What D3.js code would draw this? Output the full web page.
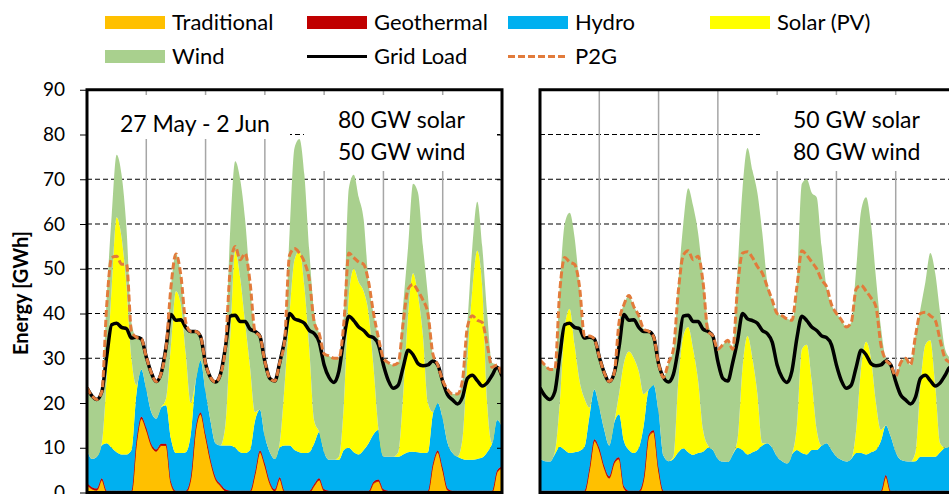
<!DOCTYPE html>
<html>
<head>
<meta charset="utf-8">
<title>Energy mix, 27 May - 2 Jun</title>
<script src="https://cdn.jsdelivr.net/npm/d3@7/dist/d3.min.js"></script>
<style>
  html, body { margin: 0; padding: 0; background: #ffffff; }
  svg { display: block; font-family: Lato, "Open Sans", "Liberation Sans", sans-serif; }
</style>
</head>
<body>
<svg id="chart" width="949" height="494"></svg>
<script>
// Sample hours across the week (every 2 h, 0..168)
const hours = d3.range(0, 169, 2);

// Grid load, identical in both scenarios [GWh]
const gridLoad = [23.4,21.6,20.8,22.5,30.5,37.5,37.8,36.9,36.6,34.5,34.7,34.3,30.3,
  26.8,24.8,26.6,32.5,39.8,38.5,38.6,36.9,36,36,34.8,28.8,
  25.7,24.7,26.4,32.3,39.4,39.6,38.2,38.2,36.5,36,34.9,29.3,
  25.5,24.9,29,34,40,38.8,38.4,37.8,36.2,35.5,33.6,28.5,
  25.7,24.6,27.2,34.5,39.4,38.4,37,36.2,35,34.6,33,28.5,
  25,23.3,24,28,31.8,30.8,28.8,28.3,28.5,29.4,28.5,24.8,
  21.8,20.7,19.8,21.3,25.5,26.2,25,23.8,24.5,26.2,28,26];

// Scenario A: 80 GW solar, 50 GW wind
const tradA = [1.7,0.8,0.5,2.8,0,0,0,0,0,0,11,16.5,14,
  10.5,9.2,10.5,10.5,2,0,0,0,3,14,17.5,12.5,
  7,3,1.5,0.3,0,0,0,0,0,4,9,6,
  2,0.3,3,0,0,0,0,0,0,1.5,2.8,0.3,
  0,0,0,0,0,0,0,0,0,2,2.5,0.3,
  0,0,0,0,0,0,0,0,0,6,9,5,
  0.5,0,0,0,0,0,0,0,0,0,4.5,5.4];
const geoA = [0.4,0.4,0.4,0.4,0.4,0.4,0.4,0.4,0.4,0.4,0.4,0.4,0.4,
  0.4,0.4,0.4,0.4,0.4,0.4,0.4,0.4,0.4,0.4,0.4,0.4,
  0.4,0.4,0.4,0.4,0.4,0.4,0.4,0.4,0.4,0.4,0.4,0.4,
  0.4,0.4,0.4,0.4,0.4,0.4,0.4,0.4,0.4,0.4,0.4,0.4,
  0.4,0.4,0.4,0.4,0.4,0.4,0.4,0.4,0.4,0.4,0.4,0.4,
  0.4,0.4,0.4,0.4,0.4,0.4,0.4,0.4,0.4,0.4,0.4,0.4,
  0.4,0.4,0.4,0.4,0.4,0.4,0.4,0.4,0.4,0.4,0.4,0.4];
const hydroA = [7.4,6.3,7.1,7.3,10.6,9.6,8.6,8.1,8.1,9.1,10.6,10.6,8.6,
  7.1,6.9,8.1,8.6,9.6,8.4,8.4,8.6,9.6,10.6,11.6,9.6,
  8.6,7.6,8.6,9.8,10.1,9.6,8.6,8.4,9.1,11.6,9.1,6.1,
  6.6,6.8,6.6,10.1,10.1,9.1,8.6,8.4,8.6,9.1,10.3,8.3,
  6.9,6.9,6.9,9.1,9.6,8.6,8.1,9.1,10.6,10.6,11.1,7.3,
  7.6,7.6,7.6,8.1,8.6,8.7,8.6,8.4,8.6,11.1,10.6,11.1,
  10.1,8.4,7.6,7.1,6.9,6.9,7.1,7.4,8.6,10.6,11.3,8.9];
const solarA = [0,0,0,0.5,15,36,52.5,48.5,37.5,20.5,2,0,0,
  0,0,0,1.5,21,36.2,33.2,22,7,0,0,0,
  0,0,0,4.5,24.5,44,39,29.2,18.5,2,0,0,
  0,0,1,13.5,29.5,42.5,45,37.2,23,5,0,0,
  0,0,0.7,10.5,34,41,38.5,35.5,29,15,0,0,
  0,0,1,13.5,31,39.9,35,26.2,11,0.5,0,0,
  0,0,0,4.5,22.7,38.2,46.5,38.2,11,0,0,0];
const windA = [13.9,14.1,12.8,11.5,18,16,14,14,13,8,10.7,6.8,7.3,
  8.8,8.3,7.6,11.5,13,8.3,6.5,7,16,11,5.3,6.3,
  9.7,13.7,15.9,17.3,24,20,22,23,19,18,16.4,16.8,
  16.5,17.4,18,10,18,25,25,25,22,24,22,22,
  23.2,22.7,22,20,24,21,19,16,7,12,20.5,22,
  21,20.5,20,20,15,20,23,20,24,13,8.5,8.5,
  12,13.2,14,13,8,9.5,11,9,20,18,12.3,11.3];
const p2gA = [23.4,21.6,20.8,22.5,42,52.5,52.8,51,51,36,34.7,34.3,30.3,
  26.8,24.8,26.6,32.5,46,53.3,48.5,38,36,36,34.8,28.8,
  25.7,24.7,26.4,32.3,50,55,52,53.4,47,36,34.9,29.3,
  25.5,24.9,29,34,53,54.5,53.5,51.5,47.5,38,35.5,31,
  30.5,30,30,38,53.5,52.5,51.5,51,47,40,34.5,30,
  29,28.5,29,38,45.5,46.5,45,43,40,31,28.5,25,
  23,22,22,25,37,39.5,38.5,38,33,28,28.5,26];

// Scenario B: 50 GW solar, 80 GW wind
const tradB = [0,0,0,0,0,0,0,0,0,0,5,11.5,9.5,
  5.5,3.2,6.5,7.5,1,0,0,0,3,12.5,13.5,5,
  0,0,0,0,0,0,0,0,0,0,0,0,
  0,0,0,0,0,0,0,0,0,0,0,0,
  0,0,0,0,0,0,0,0,0,0,0,0,
  0,0,0,0,0,0,0,0,0,3.5,0,0,
  0,0,0,0,0,0,0,0,0,0,0,0];
const geoB = [0.4,0.4,0.4,0.4,0.4,0.4,0.4,0.4,0.4,0.4,0.4,0.4,0.4,
  0.4,0.4,0.4,0.4,0.4,0.4,0.4,0.4,0.4,0.4,0.4,0.4,
  0.4,0.4,0.4,0.4,0.4,0.4,0.4,0.4,0.4,0.4,0.4,0.4,
  0.4,0.4,0.4,0.4,0.4,0.4,0.4,0.4,0.4,0.4,0.4,0.4,
  0.4,0.4,0.4,0.4,0.4,0.4,0.4,0.4,0.4,0.4,0.4,0.4,
  0.4,0.4,0.4,0.4,0.4,0.4,0.4,0.4,0.4,0.4,0.4,0.4,
  0.4,0.4,0.4,0.4,0.4,0.4,0.4,0.4,0.4,0.4,0.4,0.4];
const hydroB = [7.2,6.6,6.5,8.1,9.8,9.1,8.4,8.6,8.9,9.8,11.6,11.1,9.1,
  8.1,6.9,8.6,9.6,10.1,9.1,8.4,9.6,11.6,10.1,10.1,12.6,
  7.8,6.6,7.1,8.6,9.5,8.6,8,8.4,8.7,9.6,9.1,7.1,
  6.5,6.4,8.1,9.6,9.1,8.1,8.6,9.1,10.1,10.6,9.6,7.6,
  6.6,6.1,8.1,9.1,8.4,8.1,9.1,9.1,10.1,10.6,9.1,7.6,
  6.9,6.5,7.1,8.4,8.4,8.1,8.6,9.1,11.1,11.1,12.1,8.6,
  6.9,6.6,6.5,6.6,7.6,7.6,7.6,7.6,8.6,9.6,9.8,10.1];
const solarB = [0,0,0,0.5,9.8,27.5,32.2,24,15.7,10.8,2,0,0,
  0,0,0,4.5,17.5,22,21.2,17,7,0,0,0,
  0,0,0.5,16,25.1,28,23.6,16.2,4.9,0.5,0,0,
  0,0,0,2,18.5,26.5,21,12.5,0.5,0,0,0,
  0,0,0,5.5,23.2,24.5,15.5,4.5,0,0,0,0,
  0,0,0,5.2,19.2,25.2,21,10.5,2.5,0,0,0,
  0,0,0,2,16,25,26,16,2,0,0,0];
const windB = [22,21.5,20.6,19,26,23,21.5,24,21,14,16,11.3,11.3,
  12.8,14.3,11.1,16,13,12.5,11.5,12.5,14.5,13,10.8,10.8,
  17.5,22,24,22,25,31,32,33,34,27.5,25.5,24.5,
  26.1,27.2,24,38,40,42,42,45,47,36,33,32,
  32.5,32.3,30,32,37,37,42,52,44.5,35,32.5,32,
  31.3,30.1,30.5,36,35,32.3,30,28,23,15,16,17,
  21.7,23,21.6,26,17,14,19.5,25,29,22,19.8,18.5];
const p2gB = [29.6,28.5,27.5,27.5,45,52.5,51.5,51,46,35,35,34.3,30.3,
  26.8,24.8,26.6,38,42,44,41.5,39.5,36.5,36,34.8,28.8,
  25.7,29,32,45,53,54,52,52.8,47,36,35,32,
  33,34,32,46,53.5,53.8,52.5,50.5,49,46,43,40,
  39.5,38.8,38.5,46,54,53,51.5,50,47.5,46,42,40,
  38.6,37,38,45.5,46.3,45,43.5,41.5,33,29.6,28.5,26,
  29,30,28.5,35,40,40.3,39.5,38.5,34,30,29,28];

// Axis ticks [GWh] and day boundaries [h]
const yTicks = [0,10,20,30,40,50,60,70,80,90];
const dayBounds = [24,48,72,96,120,144];

const keys = ["Traditional","Geothermal","Hydro","Solar (PV)","Wind"];
const colors = {
  "Traditional": "#FFC000",
  "Geothermal": "#C00000",
  "Hydro": "#00B0F0",
  "Solar (PV)": "#FFFF00",
  "Wind": "#A9D08E",
  "Grid Load": "#000000",
  "P2G": "#E27B3B"
};

const svg = d3.select("#chart");
const plotTop = 89.75, plotBottom = 492.5, plotWidth = 415;
const y = d3.scaleLinear().domain([0, 90]).range([plotBottom, plotTop]);

const scenarios = [
  { id: "a", x0: 87, trad: tradA, geo: geoA, hydro: hydroA, solar: solarA, wind: windA, p2g: p2gA,
    boxes: [{x: 88, y: 95, w: 202, h: 44}, {x: 304, y: 95, w: 193, h: 76}],
    notes: [{t: "27 May - 2 Jun", x: 120, y: 132}, {t: "80 GW solar", x: 338, y: 128}, {t: "50 GW wind", x: 338, y: 160}] },
  { id: "b", x0: 540, trad: tradB, geo: geoB, hydro: hydroB, solar: solarB, wind: windB, p2g: p2gB,
    boxes: [{x: 760, y: 95, w: 200, h: 76}],
    notes: [{t: "50 GW solar", x: 793, y: 128}, {t: "80 GW wind", x: 793, y: 160}] }
];

const defs = svg.append("defs");

scenarios.forEach(sc => {
  const x = d3.scaleLinear().domain([0, 168]).range([sc.x0, sc.x0 + plotWidth]);
  const g = svg.append("g").attr("class", "panel-" + sc.id);

  defs.append("clipPath").attr("id", "clip-" + sc.id)
    .append("rect").attr("x", sc.x0).attr("y", plotTop)
    .attr("width", plotWidth).attr("height", plotBottom - plotTop);

  // horizontal dashed gridlines
  g.append("g").selectAll("line").data(yTicks.filter(v => v > 0 && v < 90)).join("line")
    .attr("x1", sc.x0).attr("x2", sc.x0 + plotWidth)
    .attr("y1", d => y(d)).attr("y2", d => y(d))
    .attr("stroke", "#000").attr("stroke-width", 1).attr("stroke-dasharray", "5,3");

  // day separators
  g.append("g").selectAll("line").data(dayBounds).join("line")
    .attr("x1", d => x(d)).attr("x2", d => x(d))
    .attr("y1", plotTop).attr("y2", plotBottom)
    .attr("stroke", "#A6A6A6").attr("stroke-width", 1.5);

  // white backgrounds of the annotation boxes
  g.append("g").selectAll("rect").data(sc.boxes).join("rect")
    .attr("x", d => d.x).attr("y", d => d.y).attr("width", d => d.w).attr("height", d => d.h)
    .attr("fill", "#fff");

  // stacked generation
  const rows = hours.map((h, i) => ({
    hour: h,
    "Traditional": sc.trad[i],
    "Geothermal": sc.geo[i],
    "Hydro": sc.hydro[i],
    "Solar (PV)": sc.solar[i],
    "Wind": sc.wind[i]
  }));
  const stacked = d3.stack().keys(keys)(rows);
  const area = d3.area()
    .x(d => x(d.data.hour)).y0(d => y(d[0])).y1(d => y(d[1]))
    .curve(d3.curveMonotoneX);

  const plot = g.append("g").attr("clip-path", "url(#clip-" + sc.id + ")");
  plot.selectAll("path.area").data(stacked).join("path")
    .attr("class", "area")
    .attr("d", area)
    .attr("fill", d => colors[d.key])
    .attr("stroke", d => d.key === "Geothermal" ? colors[d.key] : "none")
    .attr("stroke-width", 0.8);

  const line = d3.line()
    .x((d, i) => x(hours[i])).y(d => y(d))
    .curve(d3.curveMonotoneX);

  plot.append("path").attr("d", line(gridLoad))
    .attr("fill", "none").attr("stroke", colors["Grid Load"])
    .attr("stroke-width", 3.5).attr("stroke-linejoin", "round");
  plot.append("path").attr("d", line(sc.p2g))
    .attr("fill", "none").attr("stroke", colors["P2G"])
    .attr("stroke-width", 3).attr("stroke-dasharray", "7,3");

  // frame
  g.append("rect").attr("x", sc.x0).attr("y", plotTop)
    .attr("width", plotWidth).attr("height", plotBottom - plotTop)
    .attr("fill", "none").attr("stroke", "#000").attr("stroke-width", 3);

  // annotations
  g.append("g").selectAll("text").data(sc.notes).join("text")
    .attr("x", d => d.x).attr("y", d => d.y)
    .attr("font-size", 23).attr("fill", "#000")
    .text(d => d.t);

  if (sc.id === "a") {
    const yAxis = d3.axisLeft(y).tickValues(yTicks).tickSize(7).tickPadding(15);
    const ax = g.append("g").attr("transform", `translate(${sc.x0},0)`).call(yAxis);
    ax.select(".domain").remove();
    ax.selectAll(".tick line").attr("stroke", "#000");
    ax.selectAll(".tick text").attr("font-size", 19).attr("font-family", "Lato, 'Open Sans', sans-serif").attr("fill", "#000");

    const inner = d3.axisRight(y).tickValues(yTicks).tickSize(-5).tickFormat("");
    const ax2 = g.append("g").attr("transform", `translate(${sc.x0 + plotWidth},0)`).call(inner);
    ax2.select(".domain").remove();
    ax2.selectAll(".tick line").attr("stroke", "#000");
  }
});

// y axis title
svg.append("text")
  .attr("transform", "translate(28,293) rotate(-90)")
  .attr("text-anchor", "middle")
  .attr("font-size", 20).attr("font-weight", "bold")
  .text("Energy [GWh]");

// legend
const legendItems = [
  { label: "Traditional", kind: "area", x: 105, y: 16 },
  { label: "Geothermal", kind: "area", x: 307, y: 16 },
  { label: "Hydro", kind: "area", x: 508, y: 16 },
  { label: "Solar (PV)", kind: "area", x: 710, y: 16 },
  { label: "Wind", kind: "area", x: 105, y: 50 },
  { label: "Grid Load", kind: "line", x: 307, y: 50 },
  { label: "P2G", kind: "dash", x: 508, y: 50 }
];
const lg = svg.append("g").attr("class", "legend");
legendItems.forEach(it => {
  if (it.kind === "area") {
    lg.append("rect").attr("x", it.x).attr("y", it.y).attr("width", 60).attr("height", 13)
      .attr("fill", colors[it.label]);
  } else {
    lg.append("line").attr("x1", it.x).attr("x2", it.x + 60)
      .attr("y1", it.y + 6.5).attr("y2", it.y + 6.5)
      .attr("stroke", colors[it.label]).attr("stroke-width", 3)
      .attr("stroke-dasharray", it.kind === "dash" ? "7,3" : null);
  }
  lg.append("text").attr("x", it.x + 67).attr("y", it.y + 13.5)
    .attr("font-size", 22).attr("fill", "#000").text(it.label);
});
</script>
</body>
</html>
